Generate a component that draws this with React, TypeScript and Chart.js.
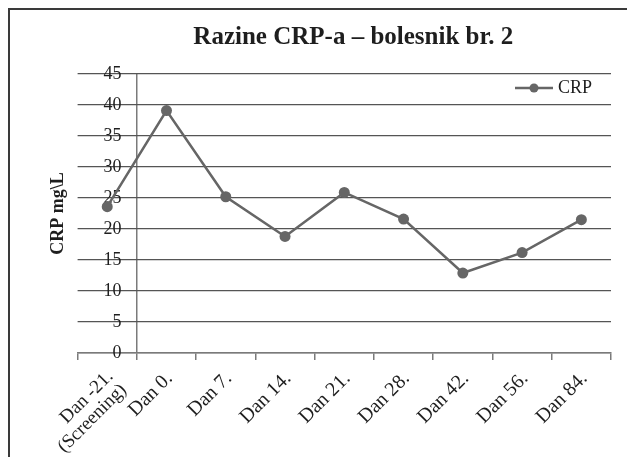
import React, { useEffect, useRef } from 'react';
import { Chart, registerables } from 'chart.js';

Chart.register(...registerables);

// ---- data ----
const categories: (string | string[])[] = [
  ['Dan -21.', '(Screening)'],
  'Dan 0.',
  'Dan 7.',
  'Dan 14.',
  'Dan 21.',
  'Dan 28.',
  'Dan 42.',
  'Dan 56.',
  'Dan 84.',
];
const crpValues = [23.6, 39.1, 25.2, 18.8, 25.9, 21.6, 12.9, 16.2, 21.5];
const yMin = 0;
const yMax = 45;
const yStep = 5;
const chartTitle = 'Razine CRP-a \u2013 bolesnik br. 2';
const yAxisTitle = 'CRP mg\\L';
const seriesName = 'CRP';

// ---- styles ----
const FONT = "'Liberation Serif', 'Times New Roman', serif";
const LINE_COLOR = '#666666';
const TEXT_COLOR = '#1e1e1e';
const GRID_COLOR = '#555555';
const AXIS_COLOR = '#7a7a7a';
const TITLE_SHIFT = 9;
const LEGEND_SHIFT = -9;

function makeLegendMarker(): HTMLCanvasElement {
  const c = document.createElement('canvas');
  c.width = 38;
  c.height = 12;
  const g = c.getContext('2d')!;
  g.strokeStyle = LINE_COLOR;
  g.lineWidth = 2.5;
  g.beginPath();
  g.moveTo(0, 6);
  g.lineTo(38, 6);
  g.stroke();
  g.fillStyle = LINE_COLOR;
  g.beginPath();
  g.arc(19, 6, 4.5, 0, Math.PI * 2);
  g.fill();
  return c;
}

const layoutTweakPlugin = {
  id: 'layoutTweak',
  afterLayout(chart: any) {
    const lg = chart.legend;
    if (lg) {
      const dx = chart.chartArea.right - lg.width - lg.left + LEGEND_SHIFT;
      lg.left += dx;
      lg.right += dx;
      const dy = chart.chartArea.top - lg.top;
      lg.top += dy;
      lg.bottom += dy;
    }
    const tb = chart.titleBlock;
    if (tb) {
      tb.left += TITLE_SHIFT;
      tb.right += TITLE_SHIFT;
    }
  },
};

export default function App() {
  const ref = useRef<HTMLCanvasElement | null>(null);

  useEffect(() => {
    if (!ref.current) return;
    const marker = makeLegendMarker();
    const chart = new Chart(ref.current, {
      type: 'line',
      data: {
        labels: categories as any,
        datasets: [
          {
            label: seriesName,
            data: crpValues,
            borderColor: LINE_COLOR,
            backgroundColor: LINE_COLOR,
            borderWidth: 2.5,
            pointRadius: 5.5,
            pointHoverRadius: 5.5,
            pointBackgroundColor: LINE_COLOR,
            pointBorderWidth: 0,
            tension: 0,
            yAxisID: 'y',
          },
        ],
      },
      options: {
        responsive: false,
        animation: false,
        events: [],
        layout: { padding: { left: 0, right: 24, top: 0, bottom: 0 } },
        plugins: {
          title: {
            display: true,
            text: chartTitle,
            fullSize: false,
            color: TEXT_COLOR,
            font: { family: FONT, size: 25, weight: 'bold' },
            padding: { top: 13, bottom: 21 },
          },
          legend: {
            display: true,
            position: 'chartArea' as any,
            align: 'start',
            labels: {
              color: TEXT_COLOR,
              font: { family: FONT, size: 18 },
              usePointStyle: true,
              pointStyleWidth: 30,
              boxHeight: 18,
              padding: 5,
              generateLabels: (ch: any) =>
                Chart.defaults.plugins.legend.labels
                  .generateLabels(ch)
                  .map((it: any) => ({ ...it, pointStyle: marker })),
            },
          },
          tooltip: { enabled: false },
        },
        scales: {
          x: {
            type: 'category',
            offset: true,
            afterFit: (s: any) => {
              s.height = 104;
            },
            grid: {
              offset: true,
              drawOnChartArea: true,
              color: (ctx: any) => (ctx.index === 1 ? AXIS_COLOR : 'rgba(0,0,0,0)'),
              tickColor: AXIS_COLOR,
              tickLength: 7,
              lineWidth: 1.5,
            },
            border: { display: true, color: AXIS_COLOR, width: 1.5 },
            ticks: {
              color: TEXT_COLOR,
              font: (ctx: any) =>
                ctx.index === 0
                  ? { family: FONT, size: 19, lineHeight: 1.0 }
                  : { family: FONT, size: 20 },
              minRotation: 45,
              maxRotation: 45,
              autoSkip: false,
              padding: 7,
              labelOffset: 3,
            },
          },
          y: {
            type: 'linear',
            position: { x: 0.24 } as any,
            min: yMin,
            max: yMax,
            afterFit: (s: any) => {
              s.width = 0;
            },
            grid: {
              color: GRID_COLOR,
              lineWidth: 1.2,
              drawTicks: false,
            },
            border: { display: false },
            ticks: {
              stepSize: yStep,
              color: TEXT_COLOR,
              font: { family: FONT, size: 18 },
              padding: 0,
            },
          },
          yTitle: {
            type: 'linear',
            axis: 'y',
            position: 'left',
            display: true,
            grid: { display: false, drawTicks: false },
            border: { display: false },
            ticks: { display: false },
            title: {
              display: true,
              text: yAxisTitle,
              color: TEXT_COLOR,
              font: { family: FONT, size: 18, weight: 'bold' },
              padding: { top: 38, bottom: 8 },
            },
          },
        },
      },
      plugins: [layoutTweakPlugin],
    } as any);
    return () => chart.destroy();
  }, []);

  return (
    <div
      style={{
        width: 627,
        height: 449,
        boxSizing: 'border-box',
        borderLeft: '2px solid #3a3a3a',
        borderTop: '2px solid #3a3a3a',
        overflow: 'hidden',
      }}
    >
      <canvas ref={ref} width={625} height={447} style={{ display: 'block' }} />
    </div>
  );
}
